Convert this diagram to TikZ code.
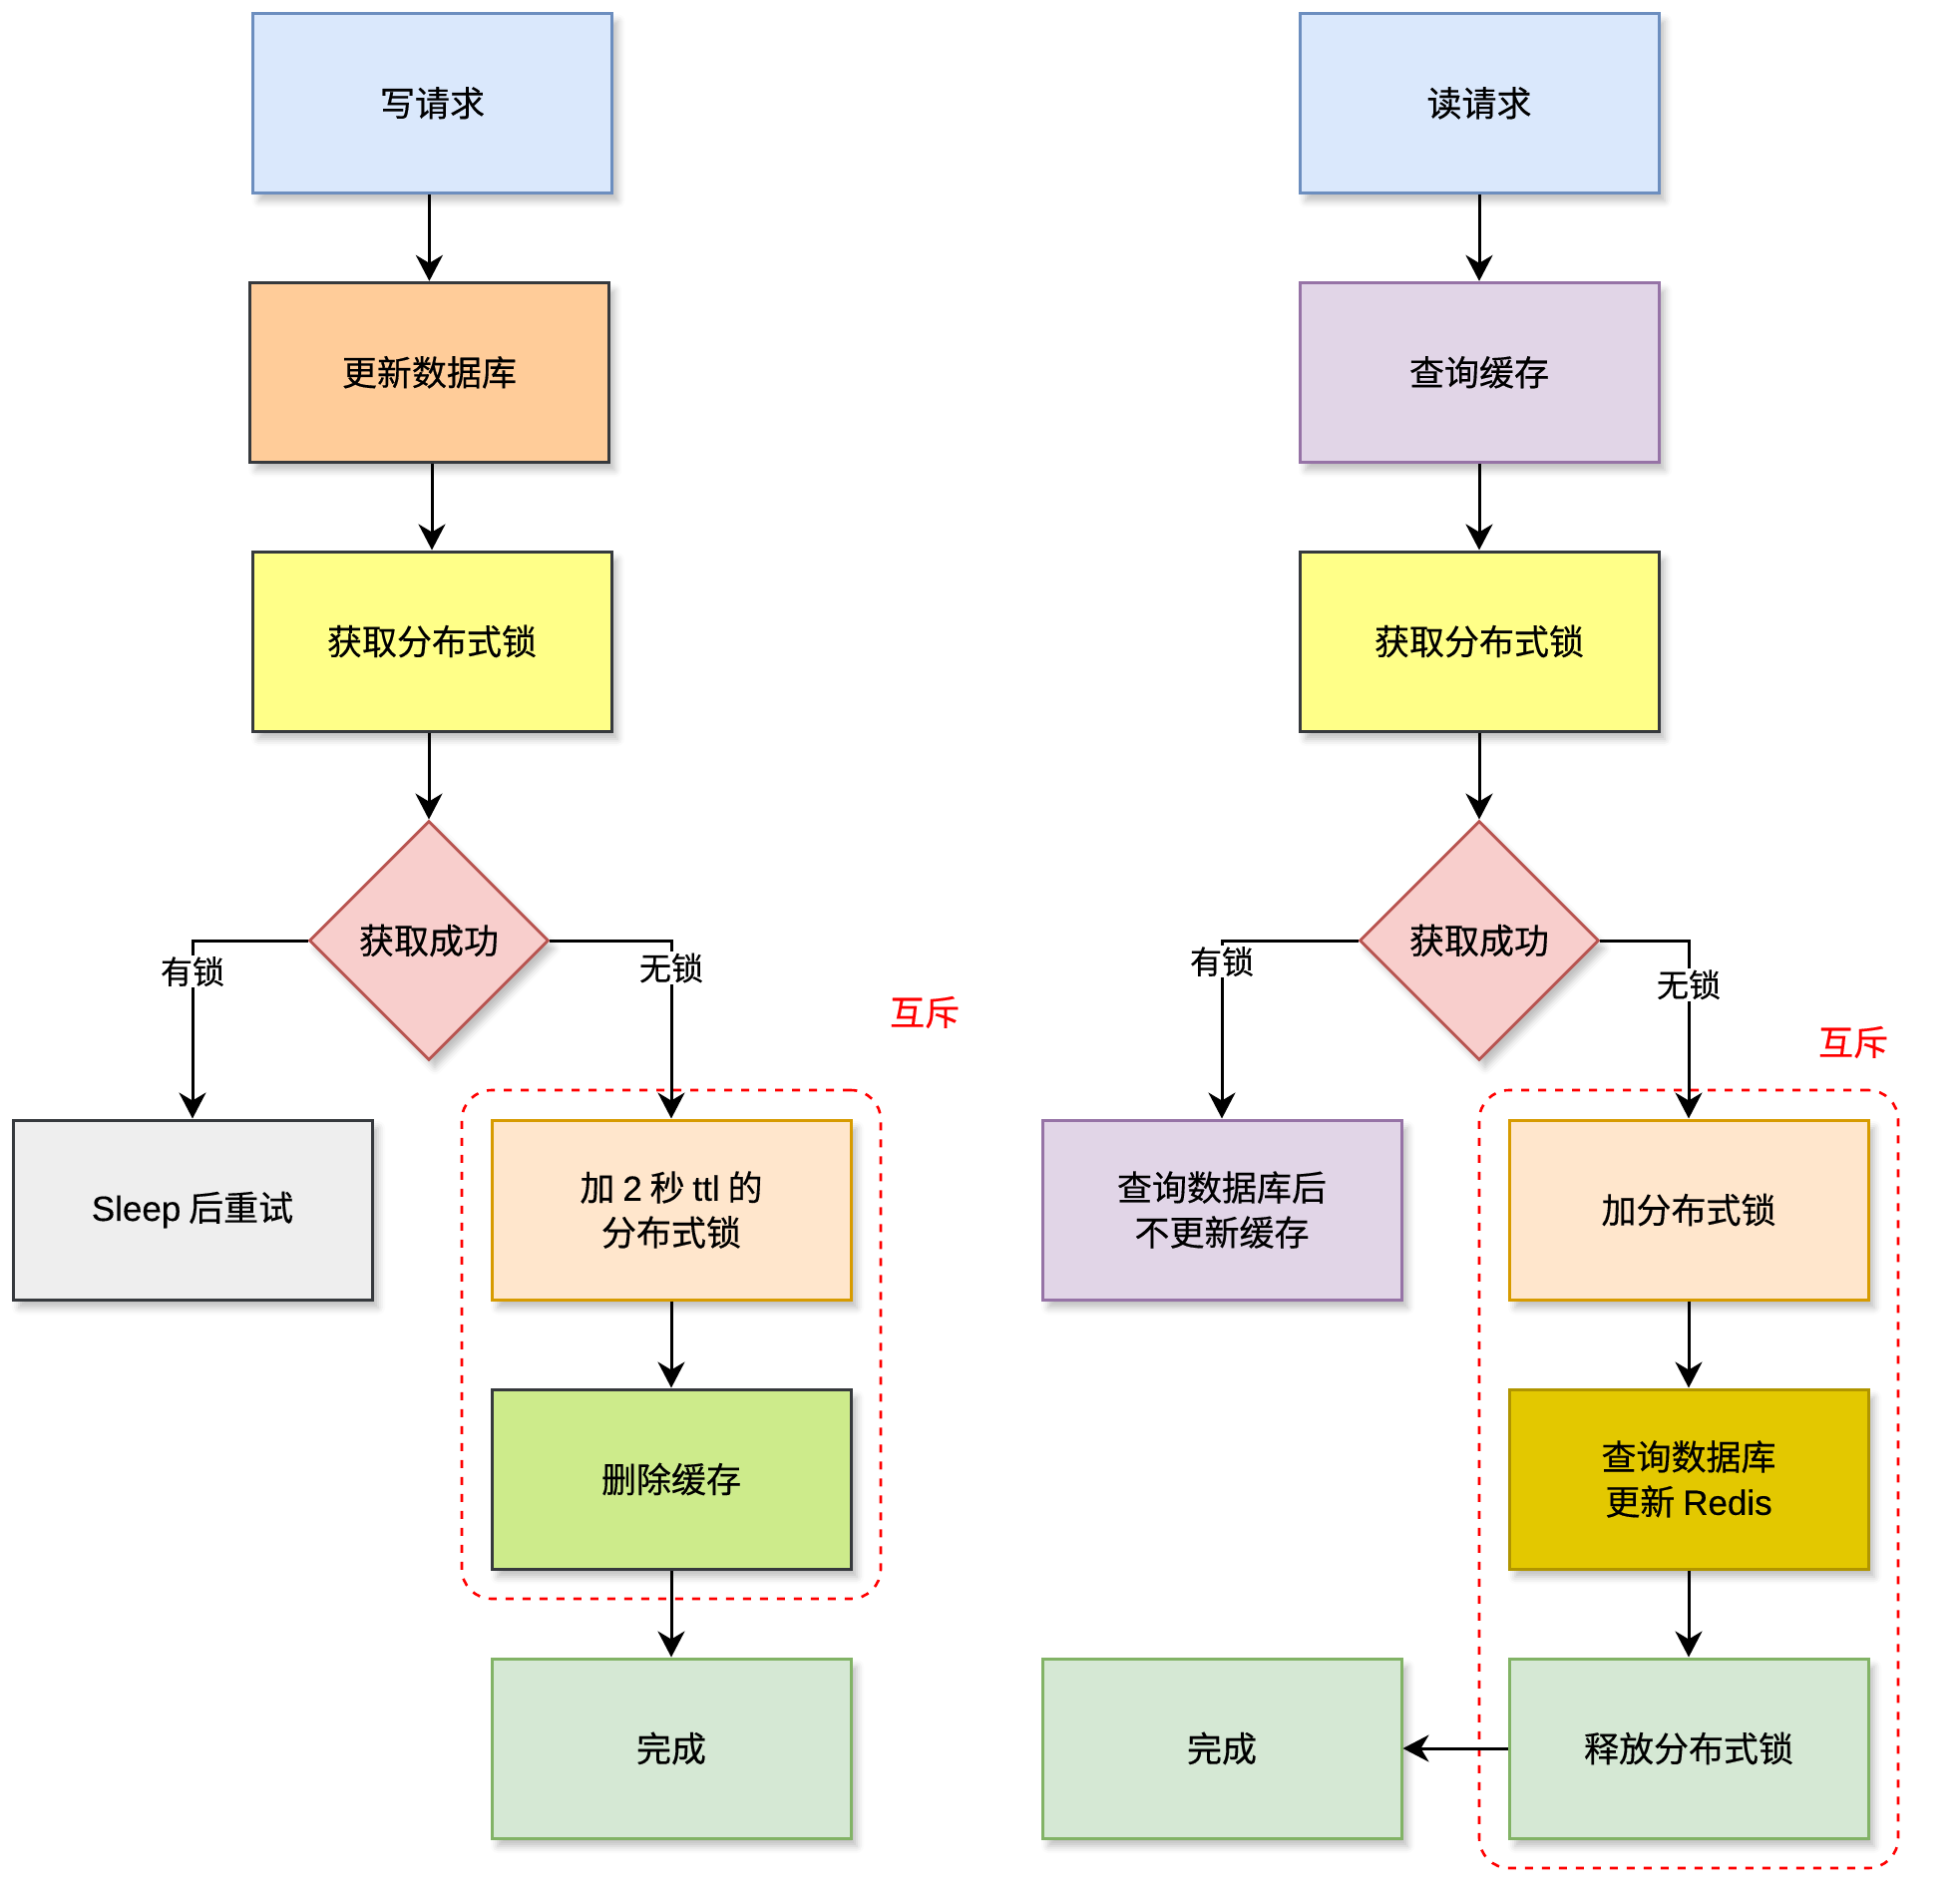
\documentclass[tikz,border=0pt]{standalone}
\usepackage{fontspec}
\setmainfont{Noto Sans CJK SC}[FakeBold=0.35]
\newfontfamily\lat{Liberation Sans}[FakeBold=0.35]
\usetikzlibrary{shapes.geometric, arrows.meta, shadows.blur, fit, backgrounds}
\definecolor{blueF}{HTML}{DAE8FC}\definecolor{blueD}{HTML}{6C8EBF}
\definecolor{orangeF}{HTML}{FFCC99}\definecolor{darkD}{HTML}{36393D}
\definecolor{yellowF}{HTML}{FFFF88}
\definecolor{redF}{HTML}{F8CECC}\definecolor{redD}{HTML}{B85450}
\definecolor{grayF}{HTML}{EEEEEE}
\definecolor{peachF}{HTML}{FFE6CC}\definecolor{peachD}{HTML}{D79B00}
\definecolor{limeF}{HTML}{CDEB8B}
\definecolor{greenF}{HTML}{D5E8D4}\definecolor{greenD}{HTML}{82B366}
\definecolor{purpleF}{HTML}{E1D5E7}\definecolor{purpleD}{HTML}{9673A6}
\definecolor{goldF}{HTML}{E3C800}\definecolor{goldD}{HTML}{B09500}
\definecolor{mutexred}{HTML}{FF0000}
\begin{document}
\begin{tikzpicture}[x=1pt, y=-1pt,
  sh/.style={blur shadow={shadow xshift=6pt, shadow yshift=-8pt, shadow blur radius=7pt, shadow opacity=25}},
  box/.style={rectangle, draw, line width=3pt, minimum width=360pt, minimum height=180pt,
    inner sep=0pt, align=center, font=\fontsize{35}{45}\selectfont, sh},
  dia/.style={diamond, draw=redD, fill=redF, line width=2.8pt, minimum width=240pt, minimum height=240pt,
    inner sep=0pt, aspect=1, font=\fontsize{35}{45}\selectfont, sh},
  arr/.style={line width=3pt, -{Stealth[length=26pt, width=27pt, inset=8pt]}},
  lbl/.style={fill=white, inner sep=1.5pt, font=\fontsize{32}{38}\selectfont},
  grp/.style={draw=mutexred, dash pattern=on 8pt off 9pt, line width=2.6pt, rounded corners=30pt, inner sep=28.5pt},
  mutex/.style={text=mutexred, font=\fontsize{35}{42}\selectfont}
]
\useasboundingbox (0,0) rectangle (1965,1905);

% left column
\node[box, fill=blueF, draw=blueD] (w1) at (433.5,103.3) {写请求};
\node[box, fill=orangeF, draw=darkD] (w2) at (430.4,373.3) {更新数据库};
\node[box, fill=yellowF, draw=darkD] (w3) at (433,643) {获取分布式锁};
\node[dia] (w4) at (430,943) {获取成功};
\node[box, fill=grayF, draw=darkD] (w5) at (193,1213) {{\lat Sleep} 后重试};
\node[box, fill=peachF, draw=peachD] (w6) at (673,1213) {加 {\lat 2} 秒 {\lat ttl} 的\\分布式锁};
\node[box, fill=limeF, draw=darkD] (w7) at (673,1483) {删除缓存};
\node[box, fill=greenF, draw=greenD] (w8) at (673,1753) {完成};
\node[mutex] (m1) at (927,1015) {互斥};

% right column
\node[box, fill=blueF, draw=blueD] (r1) at (1483,103.3) {读请求};
\node[box, fill=purpleF, draw=purpleD] (r2) at (1483,373.3) {查询缓存};
\node[box, fill=yellowF, draw=darkD] (r3) at (1483,643) {获取分布式锁};
\node[dia] (r4) at (1483,943) {获取成功};
\node[box, fill=purpleF, draw=purpleD] (r5) at (1225,1213) {查询数据库后\\不更新缓存};
\node[box, fill=peachF, draw=peachD] (r6) at (1693,1213) {加分布式锁};
\node[box, fill=goldF, draw=goldD] (r7) at (1693,1483) {查询数据库\\更新 {\lat Redis}};
\node[box, fill=greenF, draw=greenD] (r8) at (1693,1753) {释放分布式锁};
\node[box, fill=greenF, draw=greenD] (r9) at (1225,1753) {完成};
\node[mutex] (m2) at (1858,1045) {互斥};

% dashed groups
\begin{scope}[on background layer]
\node[grp, fit=(w6)(w7)] (g1) {};
\node[grp, fit=(r6)(r8)] (g2) {};
\end{scope}

% left edges
\draw[arr] (w1.south -| w2.north) -- (w2.north);
\draw[arr] (w2.south -| w3.north) -- (w3.north);
\draw[arr] (w3.south -| w4.north) -- (w4.north);
\draw[arr] (w4.west) -| node[lbl, pos=0.587] {有锁} (w5.north);
\draw[arr] (w4.east) -| node[lbl, pos=0.577] {无锁} (w6.north);
\draw[arr] (w6) -- (w7);
\draw[arr] (w7) -- (w8);

% right edges
\draw[arr] (r1) -- (r2);
\draw[arr] (r2) -- (r3);
\draw[arr] (r3) -- (r4);
\draw[arr] (r4.west) -| node[lbl, pos=0.559] {有锁} (r5.north);
\draw[arr] (r4.east) -| node[lbl, pos=0.624] {无锁} (r6.north);
\draw[arr] (r6) -- (r7);
\draw[arr] (r7) -- (r8);
\draw[arr] (r8) -- (r9);
\end{tikzpicture}
\end{document}
